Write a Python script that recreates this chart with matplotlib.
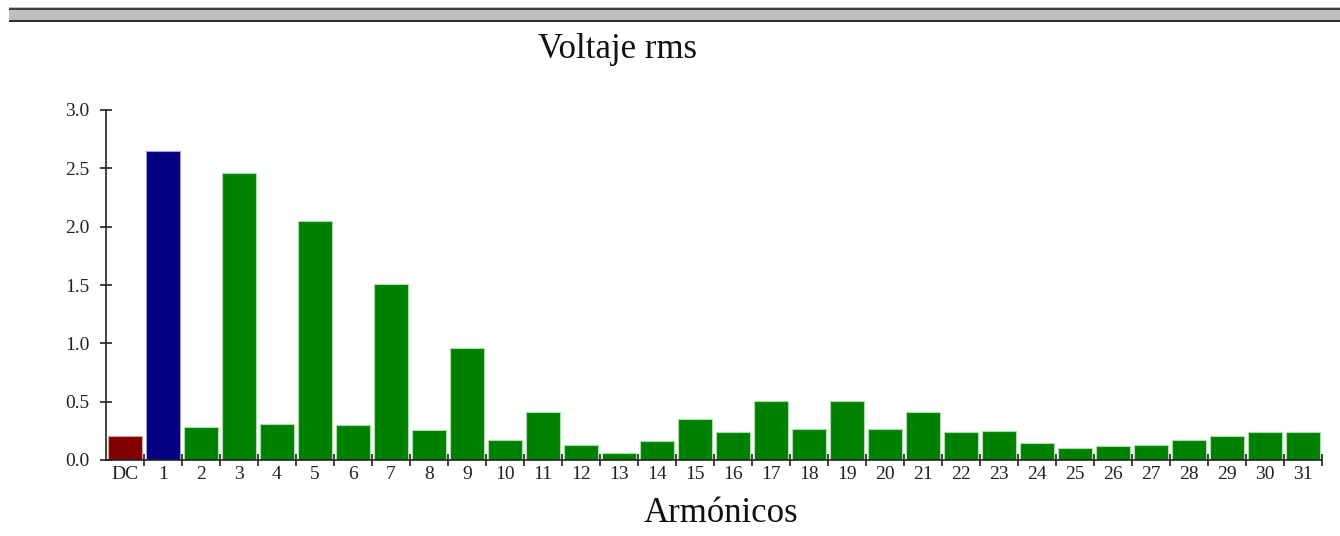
import matplotlib.pyplot as plt
from matplotlib.patches import Rectangle

# harmonic spectrum
labels = ["DC"] + [str(i) for i in range(1, 32)]
values = [0.21, 2.65, 0.28, 2.46, 0.31, 2.05, 0.30, 1.51, 0.26, 0.96,
          0.17, 0.41, 0.13, 0.06, 0.16, 0.35, 0.24, 0.51, 0.27, 0.51,
          0.27, 0.41, 0.24, 0.25, 0.15, 0.10, 0.12, 0.13, 0.17, 0.21,
          0.24, 0.24]
colors = ["#800000", "#000080"] + ["#008000"] * 30
edges = ["#d9a0a0", "#a0a0e0"] + ["#a8e0a8"] * 30

plt.rcParams['font.family'] = ['Liberation Serif', 'DejaVu Serif']

W, H = 1340, 536
fig = plt.figure(figsize=(W / 100, H / 100), dpi=100)
fig.patch.set_facecolor("white")

# grey band at the top
fig.patches.append(Rectangle((9 / W, 1 - 22 / H), 1, 15 / H, transform=fig.transFigure,
                             facecolor="#c0c0c0", edgecolor="none"))
fig.patches.append(Rectangle((9 / W, 1 - 10 / H), 1, 2.5 / H, transform=fig.transFigure,
                             facecolor="#404040", edgecolor="none"))
fig.patches.append(Rectangle((9 / W, 1 - 22 / H), 1, 2.5 / H, transform=fig.transFigure,
                             facecolor="#303030", edgecolor="none"))

ax = fig.add_axes([106 / W, (H - 460) / H, (1322 - 106) / W, 350 / H])
x = list(range(len(values)))
ax.bar(x, values, width=0.9, color=colors, edgecolor=edges, linewidth=0.8)

ax.set_xlim(-0.5, len(values) - 0.5)
ax.set_ylim(0, 3.0)
ax.set_yticks([0, 0.5, 1.0, 1.5, 2.0, 2.5, 3.0])
ax.set_yticklabels([f"{v:.1f}" for v in [0, 0.5, 1.0, 1.5, 2.0, 2.5, 3.0]])

ax.set_xticks([i + 0.5 for i in x])
ax.set_xticklabels([])
ax.set_xticks(x, minor=True)
ax.set_xticklabels(labels, minor=True)

for s in ["top", "right"]:
    ax.spines[s].set_visible(False)
for s in ["left", "bottom"]:
    ax.spines[s].set_color("#222222")
    ax.spines[s].set_linewidth(1.2)

ax.tick_params(axis="both", which="major", direction="inout", length=8, width=1.2,
               color="#222222", labelsize=14, labelcolor="#222222")
ax.tick_params(axis="x", which="minor", length=0, pad=4, labelsize=14, labelcolor="#222222")
ax.tick_params(axis="y", pad=8)

fig.text(617 / W, 1 - 50 / H, "Voltaje rms", ha="center", va="center", fontsize=25, color="#111111")
fig.text(721 / W, 1 - 513 / H, "Armónicos", ha="center", va="center", fontsize=25, color="#111111")

fig.savefig("out.png", dpi=100)
